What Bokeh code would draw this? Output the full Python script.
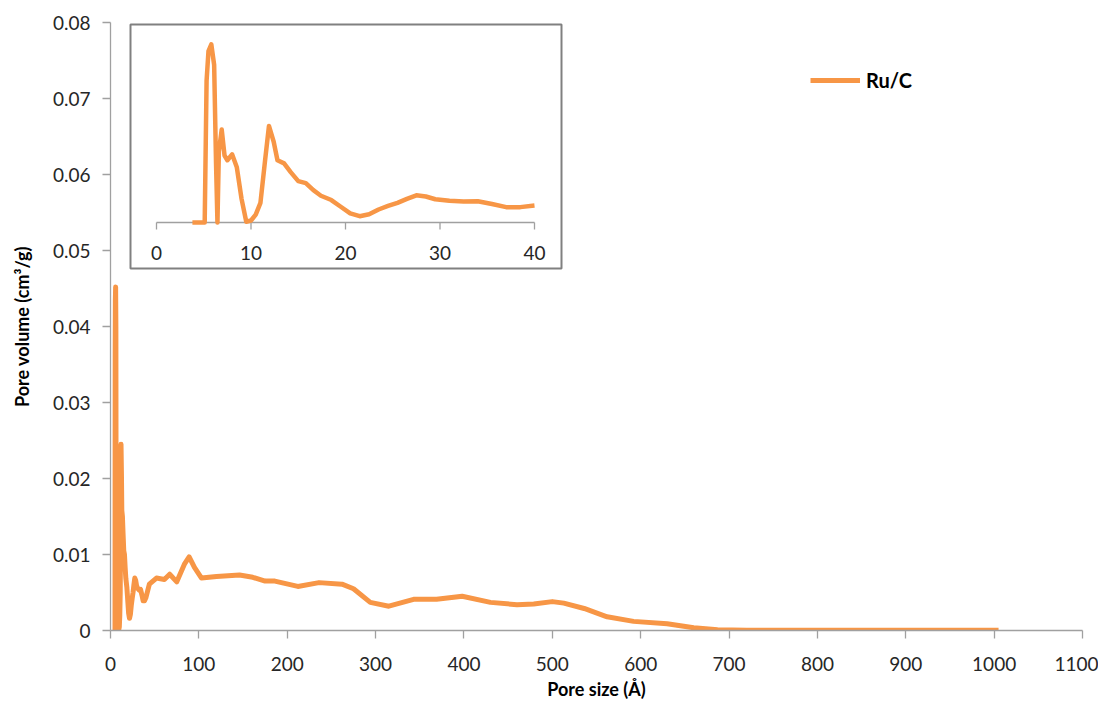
from bokeh.plotting import figure
from bokeh.models import Range1d, FixedTicker
from bokeh.core.properties import value
from bokeh.embed import file_html
from bokeh.resources import INLINE

# ---------------- data ----------------
series_name = "Ru/C"
pore_size = [3.8, 5.1, 5.3, 5.5, 5.8, 6.1, 6.3, 6.45, 6.6, 6.9, 7.2, 7.5, 8.0, 8.5, 9.0,
             9.5, 10.0, 10.5, 11.0, 11.5, 11.9, 12.4, 12.8, 13.5, 14.2, 15.0, 15.8, 16.6,
             17.4, 18.5, 19.5, 20.5, 21.5, 22.5, 23.5, 24.5, 25.5, 26.5, 27.5, 28.5, 29.5,
             31.0, 32.5, 34.0, 35.5, 37.0, 38.5, 40.0,
             44, 52, 61, 67, 75, 84, 89, 95, 103, 120, 146, 161, 175, 186, 212, 236, 262,
             275, 294, 315, 343, 369, 398, 430, 460, 479, 500, 513, 536, 562, 592, 630,
             660, 687, 720, 800, 900, 1005]
pore_volume = [0.0, 0.0, 0.036, 0.0435, 0.0452, 0.040, 0.015, 0.0, 0.018, 0.0236, 0.0170,
               0.0158, 0.0173, 0.0140, 0.0060, 0.0002, 0.0005, 0.0020, 0.0050, 0.0160,
               0.0245, 0.0205, 0.0158, 0.0150, 0.0128, 0.0105, 0.0100, 0.0082, 0.0068,
               0.0057, 0.0040, 0.0023, 0.0016, 0.0021, 0.0033, 0.0042, 0.0050, 0.0060,
               0.0069, 0.0066, 0.0059, 0.0055, 0.0053, 0.0054, 0.0047, 0.0039, 0.0039,
               0.0043,
               0.0061, 0.0069, 0.0067, 0.0074, 0.0064, 0.0088, 0.0097, 0.0083, 0.0069,
               0.0071, 0.0073, 0.0070, 0.0065, 0.0065, 0.0058, 0.0063, 0.0061, 0.0055,
               0.0037, 0.0032, 0.0041, 0.0041, 0.0045, 0.0037, 0.0034, 0.0035, 0.0038,
               0.0036, 0.0029, 0.0018, 0.0012, 0.0009, 0.00035, 0.0001, 0.00003, 0.00002,
               0.00002, 0.00002]

x_ticks = [0, 100, 200, 300, 400, 500, 600, 700, 800, 900, 1000, 1100]
y_ticks = [0, 0.01, 0.02, 0.03, 0.04, 0.05, 0.06, 0.07, 0.08]
y_tick_labels = ["0", "0.01", "0.02", "0.03", "0.04", "0.05", "0.06", "0.07", "0.08"]
inset_ticks = [0, 10, 20, 30, 40]
inset_tick_labels = ["0", "10", "20", "30", "40"]

# ---------------- layout (pixels) ----------------
FONT = "Lato"
ORANGE = "#F79646"
AXIS_GREY = "#A0A0A0"
TEXT = "#262626"

frame_w, frame_h = 972, 608
border_l, border_t, border_r, border_b = 110, 22, 16, 70
x_max, y_max = x_ticks[-1], y_ticks[-1]

# inset placement in frame pixels (from frame left / frame top)
in_x0_px, in_x40_px = 46, 424          # where inset x=0 and x=40 sit
in_base_px, in_scale = 200, 3940.0     # inset baseline (y=0) from top, px per unit
in_box = (20, 451, 2, 246)             # left, right, top, bottom of inset box
in_sx = (in_x40_px - in_x0_px) / (inset_ticks[-1] - inset_ticks[0])

ix_start = -in_x0_px / in_sx
ix_end = ix_start + frame_w / in_sx
iy_start = -(frame_h - in_base_px) / in_scale
iy_end = iy_start + frame_h / in_scale

def ipx_to_x(px):
    return ix_start + px / in_sx

def ipx_to_y(px):
    return iy_end - px / in_scale

p = figure(frame_width=frame_w, frame_height=frame_h,
           x_range=Range1d(0, x_max), y_range=Range1d(0, y_max),
           output_backend="svg", toolbar_location=None,
           min_border_left=border_l, min_border_top=border_t,
           min_border_right=border_r, min_border_bottom=border_b)
p.extra_x_ranges = {"ix": Range1d(ix_start, ix_end)}
p.extra_y_ranges = {"iy": Range1d(iy_start, iy_end)}

p.outline_line_color = None
p.grid.visible = False
p.background_fill_color = "white"
p.border_fill_color = "white"

# axes
for ax in (p.xaxis[0], p.yaxis[0]):
    ax.axis_line_color = AXIS_GREY
    ax.axis_line_width = 1.3
    ax.major_tick_line_color = AXIS_GREY
    ax.major_tick_line_width = 1.3
    ax.major_tick_out = 8
    ax.major_tick_in = 0
    ax.minor_tick_line_color = None
    ax.major_label_text_font = FONT
    ax.major_label_text_font_size = "19px"
    ax.major_label_text_color = TEXT
    ax.axis_label_text_font = FONT
    ax.axis_label_text_font_size = "18px"
    ax.axis_label_text_font_style = "bold"
    ax.axis_label_text_color = "#000000"

p.xaxis.ticker = FixedTicker(ticks=x_ticks)
p.xaxis.major_label_standoff = 18
p.xaxis.axis_label = "Pore size (Å)"
p.xaxis.axis_label_standoff = 4

p.yaxis.ticker = FixedTicker(ticks=y_ticks)
p.yaxis.major_label_overrides = {t: l for t, l in zip(y_ticks, y_tick_labels)}
p.yaxis.major_label_standoff = 12
p.yaxis.axis_label = "Pore volume (cm³/g)"
p.yaxis.axis_label_standoff = 17

# main series
main = p.line(pore_size, pore_volume, line_color=ORANGE, line_width=5,
              line_join="round", legend_label=series_name)

# inset box
p.quad(left=[ipx_to_x(in_box[0])], right=[ipx_to_x(in_box[1])],
       top=[ipx_to_y(in_box[2])], bottom=[ipx_to_y(in_box[3])],
       fill_color="white", line_color="#808080", line_width=2,
       x_range_name="ix", y_range_name="iy")

# inset axis
tick_len = 7 / in_scale
p.segment(x0=[inset_ticks[0]], y0=[0], x1=[inset_ticks[-1]], y1=[0],
          line_color=AXIS_GREY, line_width=1.3, x_range_name="ix", y_range_name="iy")
p.segment(x0=inset_ticks, y0=[0] * len(inset_ticks), x1=inset_ticks,
          y1=[-tick_len] * len(inset_ticks),
          line_color=AXIS_GREY, line_width=1.3, x_range_name="ix", y_range_name="iy")
p.text(x=inset_ticks, y=[0] * len(inset_ticks), text=inset_tick_labels,
       y_offset=30, text_align="center", text_baseline="middle",
       text_font=value(FONT), text_font_size="19px", text_color=TEXT,
       x_range_name="ix", y_range_name="iy")

# inset series (first 40 Å)
ins_x = [x for x in pore_size if x <= inset_ticks[-1]]
ins_y = [y for x, y in zip(pore_size, pore_volume) if x <= inset_ticks[-1]]
p.line(ins_x, ins_y, line_color=ORANGE, line_width=4.5, line_join="round",
       x_range_name="ix", y_range_name="iy")

# legend
lg = p.legend[0]
lg.location = (700, 538)
lg.border_line_color = None
lg.background_fill_alpha = 0
lg.padding = 0
lg.margin = 0
lg.glyph_width = 50
lg.glyph_height = 20
lg.label_standoff = 6
lg.label_text_font = FONT
lg.label_text_font_size = "20px"
lg.label_text_font_style = "bold"
lg.label_text_color = "#000000"

open("out.html", "w").write(file_html(p, INLINE))
